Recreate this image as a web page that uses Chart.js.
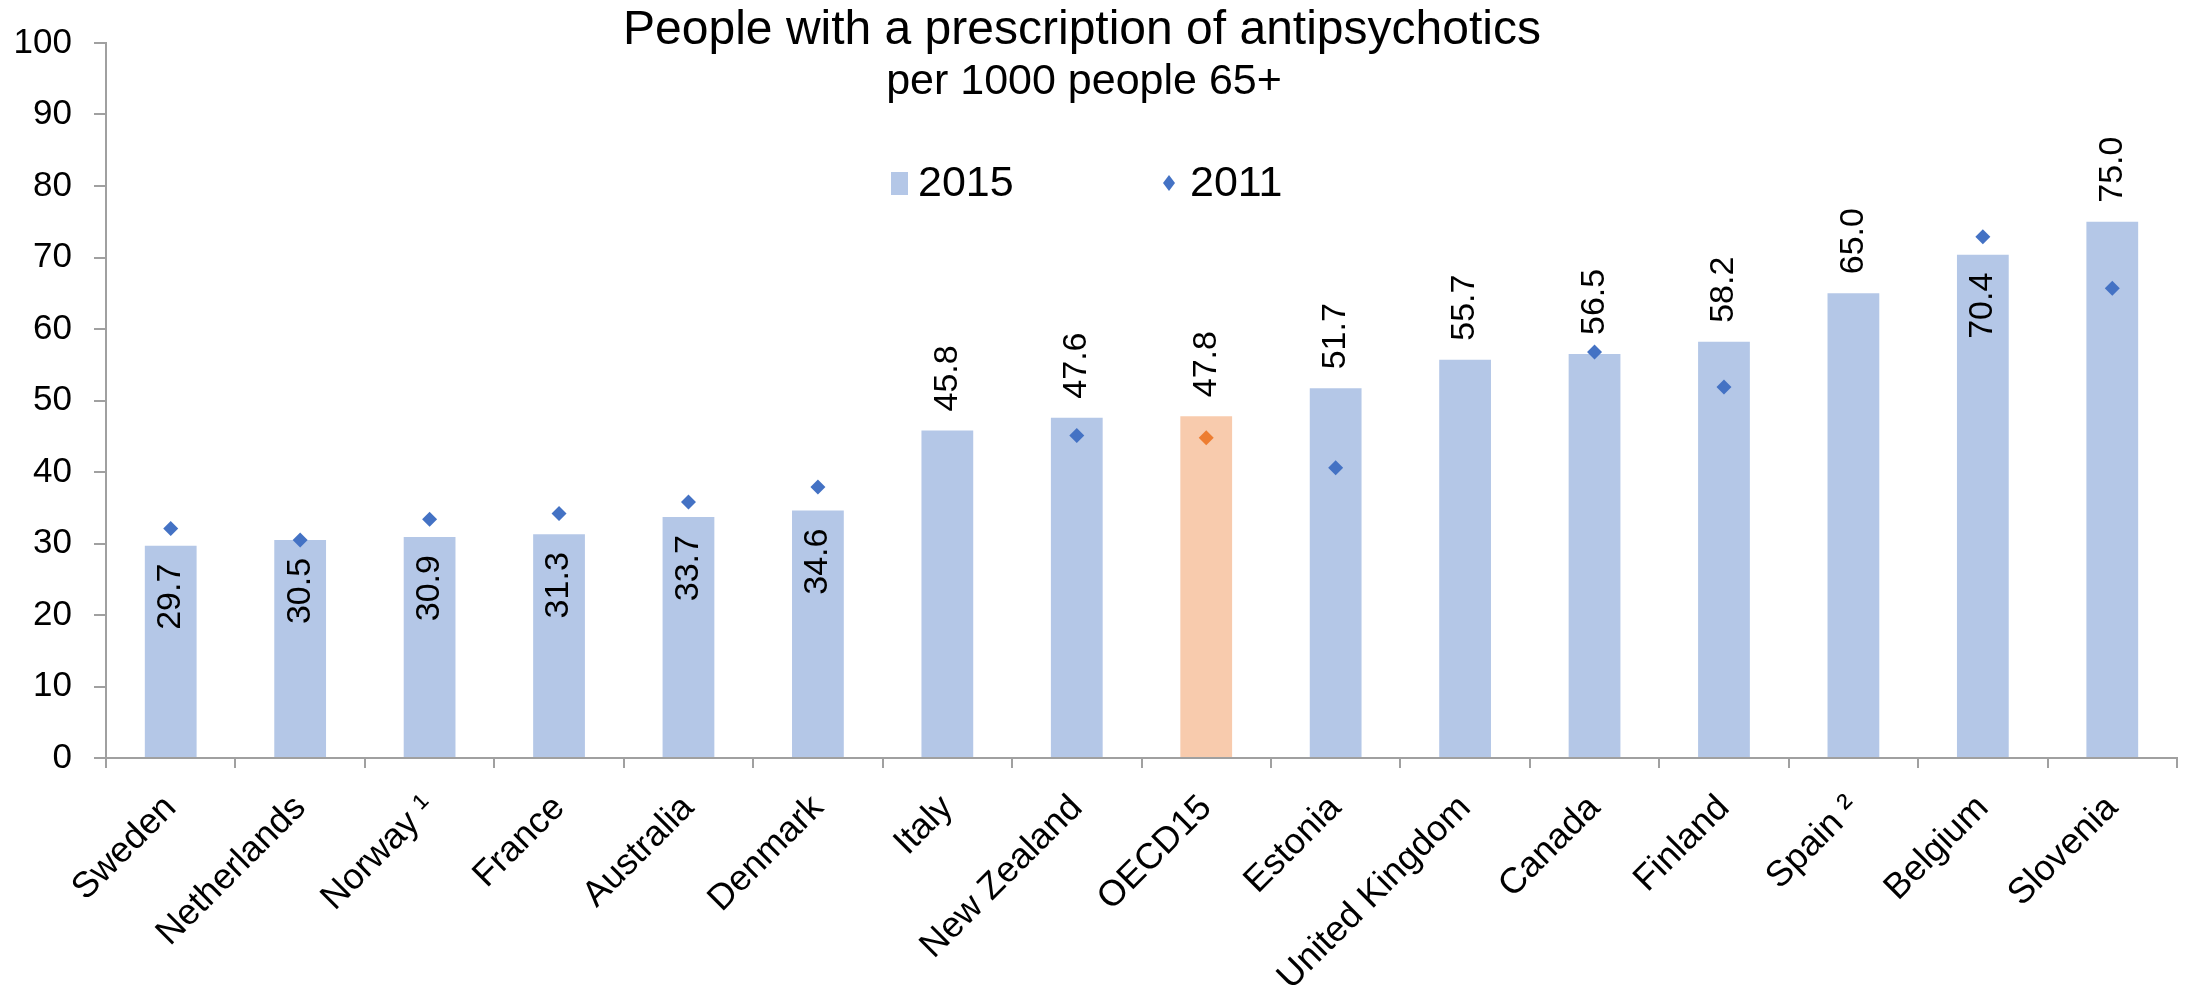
<!DOCTYPE html>
<html>
<head>
<meta charset="utf-8">
<script src="https://cdn.jsdelivr.net/npm/chart.js@4"></script>
<style>
  body { margin: 0; background: #fff; }
  canvas { display: block; }
</style>
</head>
<body>
<canvas id="myChart" width="2188" height="988"></canvas>
<script>
const countries = [
  "Sweden", "Netherlands", "Norway \u00b9", "France", "Australia", "Denmark",
  "Italy", "New Zealand", "OECD15", "Estonia", "United Kingdom", "Canada",
  "Finland", "Spain \u00b2", "Belgium", "Slovenia",
];
const values2015 = [29.7, 30.5, 30.9, 31.3, 33.7, 34.6, 45.8, 47.6, 47.8, 51.7, 55.7, 56.5, 58.2, 65.0, 70.4, 75.0];
const values2011 = [32.1, 30.5, 33.4, 34.2, 35.8, 37.9, null, 45.1, 44.8, 40.6, null, 56.8, 51.9, null, 72.9, 65.7];
const yTicks = [0, 10, 20, 30, 40, 50, 60, 70, 80, 90, 100];
const seriesNames = ["2015", "2011"];
const titleText = "People with a prescription of antipsychotics";
const subtitleText = "per 1000 people 65+";
// bars whose value label sits inside the top of the bar
const labelsInside = ["Sweden", "Netherlands", "Norway \u00b9", "France", "Australia", "Denmark", "Belgium"];

const FONT = "'Liberation Sans', Arial, sans-serif";
const barColor = "#b4c7e7";
const oecdBarColor = "#f8cbad";
const dotColor = "#4472c4";
const oecdDotColor = "#ed7d31";
const axisColor = "#a0a0a0";

const isOecd = (c) => c === "OECD15";

// value labels, rotated, drawn on the bar elements
const barLabels = {
  id: "barLabels",
  afterDatasetsDraw(chart) {
    const ctx = chart.ctx;
    const meta = chart.getDatasetMeta(0);
    ctx.save();
    ctx.font = "34px " + FONT;
    ctx.fillStyle = "#000";
    ctx.textBaseline = "middle";
    meta.data.forEach((bar, i) => {
      const inside = labelsInside.includes(countries[i]);
      ctx.save();
      ctx.translate(bar.x, inside ? bar.y + 18 : bar.y - 19);
      ctx.rotate(-Math.PI / 2);
      ctx.textAlign = inside ? "right" : "left";
      ctx.fillText(values2015[i].toFixed(1), 0, 0);
      ctx.restore();
    });
    ctx.restore();
  },
};

// title, subtitle and legend sit over the top of the plot area
const header = {
  id: "header",
  afterDraw(chart) {
    const ctx = chart.ctx;
    const cx = 1082;
    ctx.save();
    ctx.fillStyle = "#000";
    ctx.textBaseline = "middle";
    ctx.textAlign = "center";
    ctx.font = "48px " + FONT;
    ctx.fillText(titleText, cx, 31);
    ctx.font = "43px " + FONT;
    ctx.fillText(subtitleText, cx + 2, 82);

    const ly = 183;
    ctx.textAlign = "left";
    ctx.font = "43px " + FONT;
    ctx.fillStyle = barColor;
    ctx.fillRect(cx - 191, ly - 11, 17, 23);
    ctx.fillStyle = "#000";
    ctx.fillText(seriesNames[0], cx - 164, ly + 1);

    ctx.fillStyle = dotColor;
    ctx.beginPath();
    ctx.moveTo(cx + 87, ly - 8);
    ctx.lineTo(cx + 93, ly);
    ctx.lineTo(cx + 87, ly + 8);
    ctx.lineTo(cx + 81, ly);
    ctx.closePath();
    ctx.fill();
    ctx.fillStyle = "#000";
    ctx.fillText(seriesNames[1], cx + 108, ly + 1);
    ctx.restore();
  },
};

new Chart("myChart", {
  type: "bar",
  data: {
    labels: countries,
    datasets: [
      {
        label: seriesNames[0],
        data: values2015,
        backgroundColor: countries.map((c) => (isOecd(c) ? oecdBarColor : barColor)),
        barPercentage: 0.4,
        categoryPercentage: 1.0,
        order: 1,
      },
      {
        label: seriesNames[1],
        type: "line",
        data: values2011,
        showLine: false,
        pointStyle: "rectRot",
        pointRadius: 7.5,
        pointHoverRadius: 7.5,
        pointBorderWidth: 0,
        pointBackgroundColor: countries.map((c) => (isOecd(c) ? oecdDotColor : dotColor)),
        pointBorderColor: countries.map((c) => (isOecd(c) ? oecdDotColor : dotColor)),
        order: 0,
      },
    ],
  },
  options: {
    responsive: false,
    animation: false,
    events: [],
    layout: {
      padding: { top: 40, right: 11, left: 0, bottom: 0 },
    },
    plugins: {
      legend: { display: false },
      title: { display: false },
      tooltip: { enabled: false },
    },
    scales: {
      x: {
        offset: true,
        afterFit(scale) {
          scale.height = 230;
        },
        border: { color: axisColor, width: 2 },
        grid: {
          offset: true,
          drawOnChartArea: false,
          color: axisColor,
          lineWidth: 2,
          tickLength: 10,
        },
        ticks: {
          minRotation: 45,
          maxRotation: 45,
          autoSkip: false,
          padding: 19,
          color: "#000",
          font: { family: FONT, size: 36 },
        },
      },
      y: {
        min: 0,
        max: 100,
        afterFit(scale) {
          scale.width = 106;
        },
        afterBuildTicks(scale) {
          scale.ticks = yTicks.map((v) => ({ value: v }));
        },
        border: { color: axisColor, width: 2 },
        grid: {
          drawOnChartArea: false,
          color: axisColor,
          lineWidth: 2,
          tickLength: 12,
        },
        ticks: {
          padding: 22,
          color: "#000",
          font: { family: FONT, size: 35 },
        },
      },
    },
  },
  plugins: [barLabels, header],
});
</script>
</body>
</html>
